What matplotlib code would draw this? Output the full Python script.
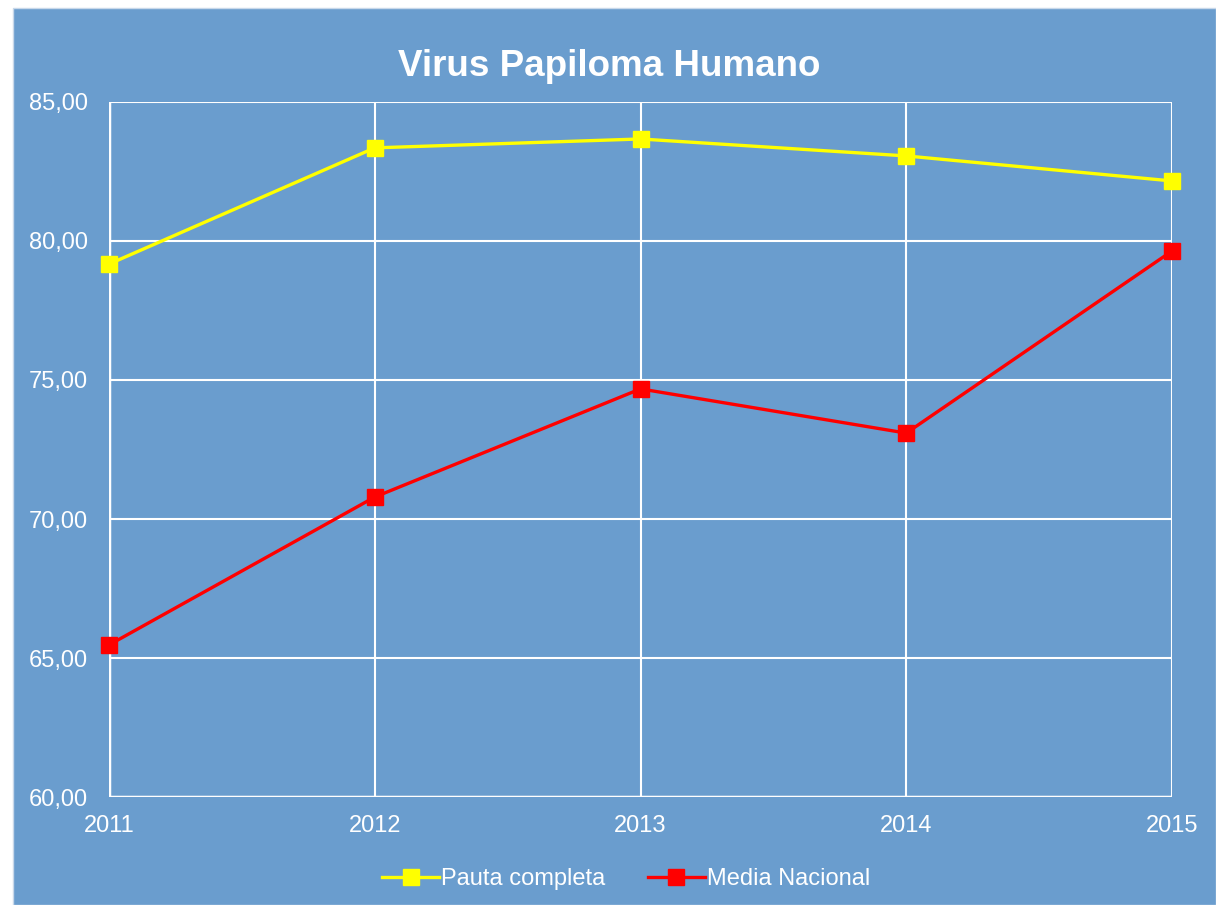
import matplotlib.pyplot as plt
from matplotlib.patches import Rectangle
from matplotlib.ticker import FuncFormatter

plt.rcParams['font.family'] = ['Liberation Sans', 'DejaVu Sans']

years = [2011, 2012, 2013, 2014, 2015]
pauta = [79.17, 83.35, 83.67, 83.06, 82.16]
media = [65.47, 70.79, 74.68, 73.09, 79.64]

bg = '#6A9DCE'

fig = plt.figure(figsize=(12.16, 9.05), dpi=100)
fig.patch.set_facecolor('white')
fig.patches.append(Rectangle((13 / 1216, 0), 1 - 13 / 1216, 1 - 8 / 905,
                             transform=fig.transFigure, facecolor=bg,
                             edgecolor='#C8D8EA', lw=1, zorder=-10))

ax = fig.add_axes([109 / 1216, 1 - 797 / 905, (1172 - 109) / 1216, (797 - 102) / 905])
ax.set_facecolor(bg)

ax.plot(years, pauta, color='#FFFF00', lw=2.4, marker='s', ms=11, label='Pauta completa', clip_on=False, zorder=3)
ax.plot(years, media, color='#FF0000', lw=2.4, marker='s', ms=11, label='Media Nacional', clip_on=False, zorder=3)

ax.set_xlim(2011, 2015)
ax.set_ylim(60, 85)
ax.set_xticks(years)
ax.set_yticks(range(60, 86, 5))
ax.yaxis.set_major_formatter(FuncFormatter(lambda v, p: f'{v:.2f}'.replace('.', ',')))
ax.grid(True, color='white', lw=1.5)
for s in ax.spines.values():
    s.set_visible(False)
ax.tick_params(length=0, colors='white', labelsize=17, pad=13)
ax.tick_params(axis='y', pad=15)
ax.axhline(60, color='white', lw=2.5, zorder=2)
ax.axvline(2011, color='white', lw=2.5, zorder=2)

fig.text(609 / 1216, 1 - 67 / 905, 'Virus Papiloma Humano', color='white',
         fontsize=26.5, fontweight='bold', ha='center', va='center')

leg = fig.legend(loc='center', bbox_to_anchor=(0.515, 1 - 879 / 905), ncol=2, frameon=False,
                 fontsize=17, handlelength=2.4, handletextpad=0.1, columnspacing=1.8)
for t in leg.get_texts():
    t.set_color('white')

fig.savefig('out.png', dpi=100, facecolor=fig.get_facecolor())
